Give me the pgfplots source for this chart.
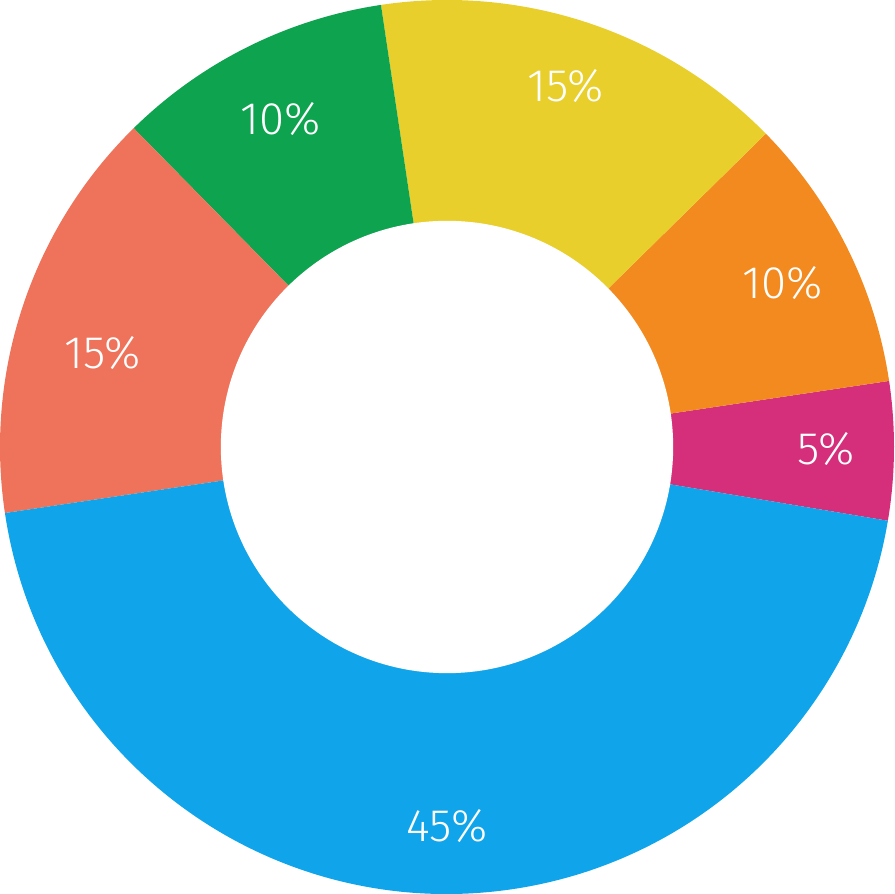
\documentclass[border=0pt]{standalone}
\usepackage{pgfplots}
\pgfplotsset{compat=1.18}
\usepackage{pgfplotstable}
\usepackage{fontspec}
\setmainfont{Fira Sans Light}
\definecolor{cMag}{HTML}{D52E7A}
\definecolor{cOra}{HTML}{F28A1F}
\definecolor{cYel}{HTML}{E8CF2B}
\definecolor{cGre}{HTML}{0EA34F}
\definecolor{cSal}{HTML}{EF735B}
\definecolor{cBlu}{HTML}{10A5EA}
% value, colour, label angle, label radius (fraction of outer radius)
\pgfplotstableread{
value col la lr
5 cMag -0.3 0.848
10 cOra 26.1 0.836
15 cYel 71.8 0.851
10 cGre 116.9 0.823
15 cSal 164.7 0.799
45 cBlu 270.0 0.848
}\data
\begin{document}
\begin{tikzpicture}
\begin{axis}[name=ax, hide axis, scale only axis, width=10cm, height=10cm,
  xmin=-1, xmax=1, ymin=-1, ymax=1, clip=false]
\pgfplotstablegetrowsof{\data}
\pgfmathtruncatemacro{\N}{\pgfplotsretval-1}
\gdef\acc{-9.5}
\pgfplotsforeachungrouped \i in {0,...,\N}{
  \pgfplotstablegetelem{\i}{value}\of{\data}\let\vv\pgfplotsretval
  \pgfplotstablegetelem{\i}{col}\of{\data}\let\cc\pgfplotsretval
  \pgfplotstablegetelem{\i}{la}\of{\data}\let\la\pgfplotsretval
  \pgfplotstablegetelem{\i}{lr}\of{\data}\let\lr\pgfplotsretval
  \pgfmathsetmacro{\sa}{\acc}
  \pgfmathsetmacro{\sb}{\acc+3.6*\vv}
  \edef\temp{\noexpand\fill[\cc] (axis cs:0,0) -- (axis cs:{cos(\sa)},{sin(\sa)}) arc[start angle=\sa, end angle=\sb, radius=5cm] -- cycle;}
  \temp
  \global\let\acc\sb
}
\fill[white] (axis cs:0,0) circle[radius=2.53cm];
\pgfplotsforeachungrouped \i in {0,...,\N}{
  \pgfplotstablegetelem{\i}{value}\of{\data}\let\vv\pgfplotsretval
  \pgfplotstablegetelem{\i}{la}\of{\data}\let\la\pgfplotsretval
  \pgfplotstablegetelem{\i}{lr}\of{\data}\let\lr\pgfplotsretval
  \edef\temp{\noexpand\node[text=white, font=\noexpand\fontsize{14.5}{16}\noexpand\selectfont] at (axis cs:{\lr*cos(\la)},{\lr*sin(\la)}) {\vv\noexpand\%};}
  \temp
}
\end{axis}
\pgfresetboundingbox
\useasboundingbox (ax.south west) rectangle (ax.north east);
\end{tikzpicture}
\end{document}
